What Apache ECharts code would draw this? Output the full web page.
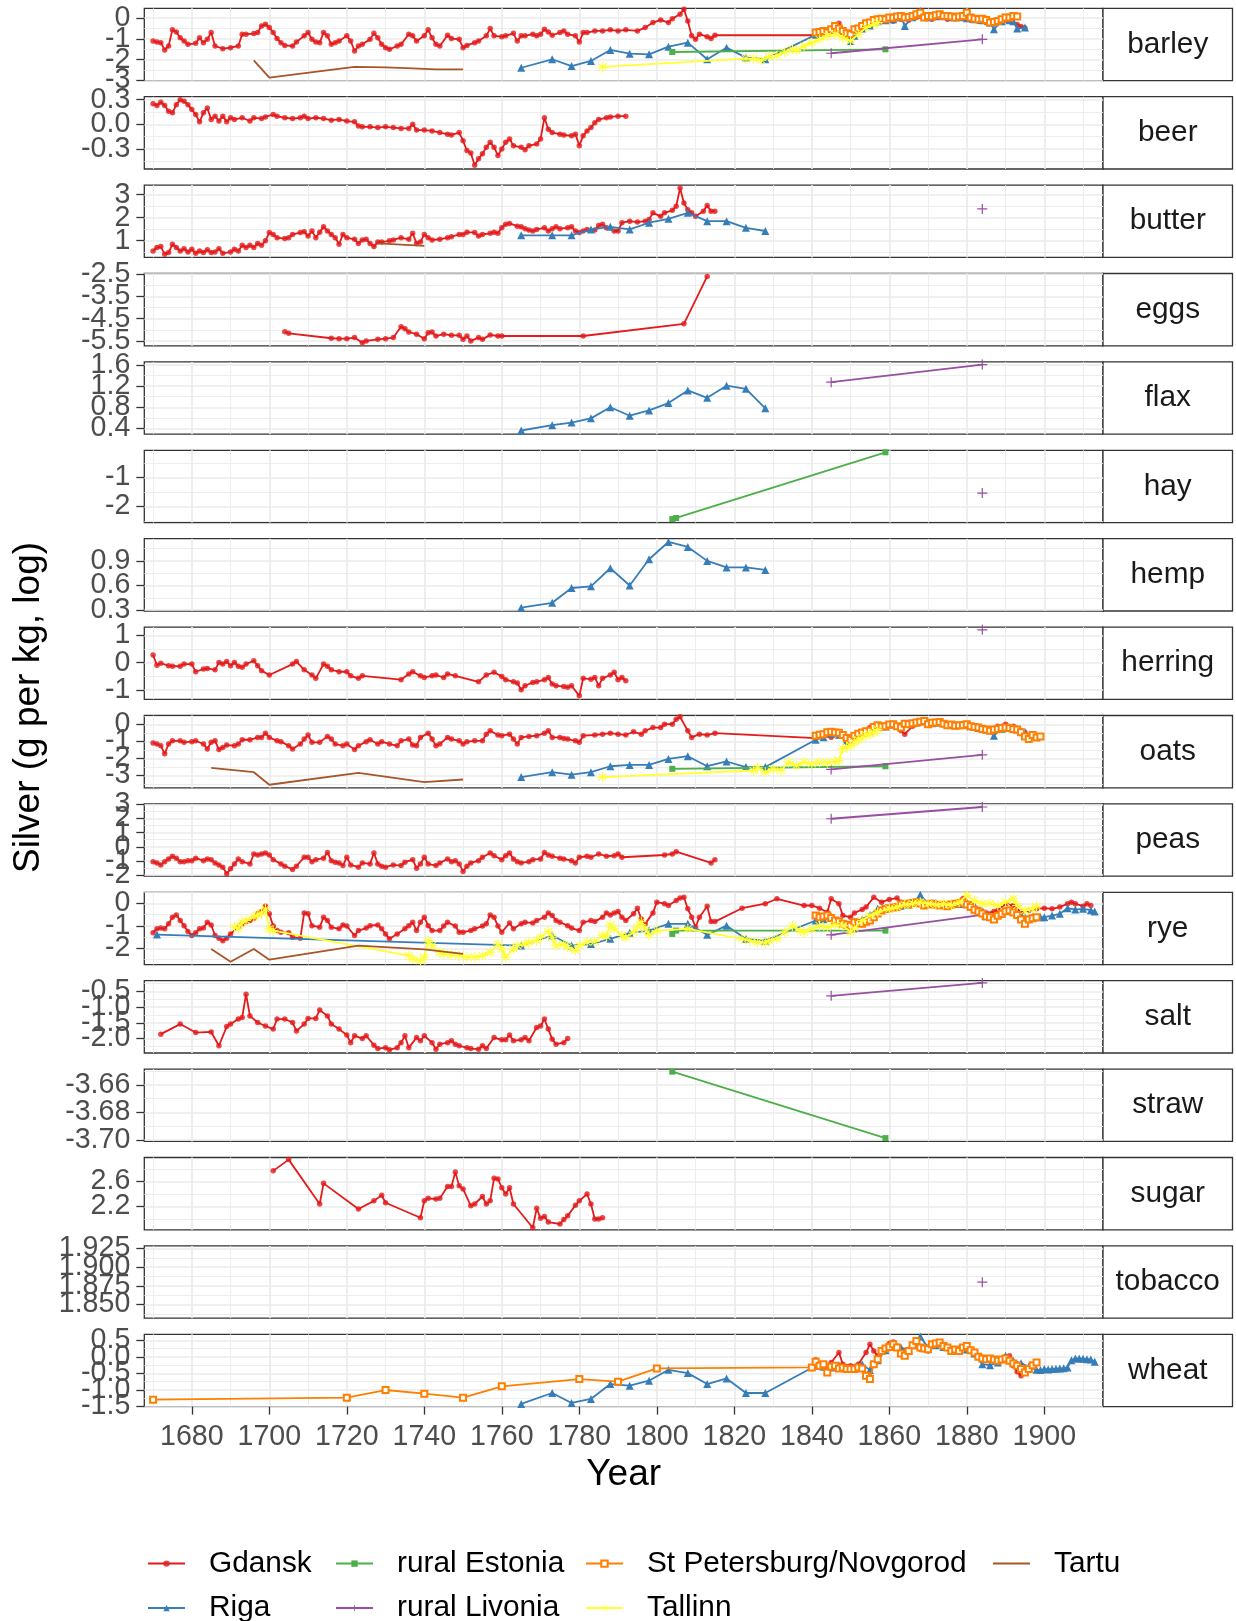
<!DOCTYPE html>
<html>
<head>
<meta charset="utf-8">
<script src="https://cdn.jsdelivr.net/npm/echarts@6/dist/echarts.min.js"></script>
<style>
html,body{margin:0;padding:0;background:#ffffff;}
#chart{width:1236px;height:1621px;}
</style>
</head>
<body>
<div id="chart"></div>
<script>
// ---------- categories and tick labels ----------
const REGIONS = ['Gdansk', 'Riga', 'rural Estonia', 'rural Livonia', 'St Petersburg/Novgorod', 'Tallinn', 'Tartu'];
const COMMODITIES = ['barley', 'beer', 'butter', 'eggs', 'flax', 'hay', 'hemp', 'herring', 'oats', 'peas', 'rye', 'salt', 'straw', 'sugar', 'tobacco', 'wheat'];
const YEAR_TICKS = ['1680', '1700', '1720', '1740', '1760', '1780', '1800', '1820', '1840', '1860', '1880', '1900'];
const YEAR_LIMITS = [1667.74, 1915.15];

const barleyTicks = ['0', '-1', '-2', '-3'];
const beerTicks = ['0.3', '0.0', '-0.3'];
const butterTicks = ['3', '2', '1'];
const eggsTicks = ['-2.5', '-3.5', '-4.5', '-5.5'];
const flaxTicks = ['1.6', '1.2', '0.8', '0.4'];
const hayTicks = ['-1', '-2'];
const hempTicks = ['0.9', '0.6', '0.3'];
const herringTicks = ['1', '0', '-1'];
const oatsTicks = ['0', '-1', '-2', '-3'];
const peasTicks = ['3', '2', '1', '0', '-1', '-2'];
const ryeTicks = ['0', '-1', '-2'];
const saltTicks = ['-0.5', '-1.0', '-1.5', '-2.0'];
const strawTicks = ['-3.66', '-3.68', '-3.70'];
const sugarTicks = ['2.6', '2.2'];
const tobaccoTicks = ['1.925', '1.900', '1.875', '1.850'];
const wheatTicks = ['0.5', '0.0', '-0.5', '-1.0', '-1.5'];

// y limits of each facet (free scales)
const barleyLimits = [-3.01, 0.48];
const beerLimits = [-0.545, 0.337];
const butterLimits = [0.27, 3.42];
const eggsLimits = [-5.72, -2.47];
const flaxLimits = [0.29, 1.66];
const hayLimits = [-2.56, -0.06];
const hempLimits = [0.29, 1.17];
const herringLimits = [-1.34, 1.30];
const oatsLimits = [-3.73, 0.53];
const peasLimits = [-2.08, 3.03];
const ryeLimits = [-2.73, 0.50];
const saltLimits = [-2.46, -0.16];
const strawLimits = [-3.7012, -3.6484];
const sugarLimits = [1.827, 2.984];
const tobaccoLimits = [1.8317, 1.9286];
const wheatLimits = [-1.50, 0.68];

// ---------- series values: [year, log silver price] ----------
// barley
const barleyGdansk = [[1670,-1.10],[1671,-1.15],[1672,-1.18],[1673,-1.53],[1674,-1.34],[1675,-0.56],[1676,-0.66],[1677,-0.94],[1678,-1.10],[1679,-1.26],[1681,-1.21],[1682,-0.94],[1683,-1.18],[1684,-1.02],[1685,-0.69],[1686,-1.34],[1688,-1.47],[1690,-1.42],[1692,-1.34],[1693,-0.77],[1694,-0.77],[1696,-0.74],[1697,-0.69],[1698,-0.37],[1699,-0.29],[1700,-0.45],[1701,-0.69],[1702,-0.98],[1703,-1.18],[1704,-1.31],[1706,-1.34],[1707,-1.15],[1709,-0.85],[1710,-0.69],[1711,-1.02],[1712,-1.15],[1713,-1.18],[1714,-0.69],[1715,-0.85],[1716,-1.26],[1717,-1.18],[1718,-1.10],[1720,-0.85],[1721,-1.10],[1722,-1.58],[1723,-1.34],[1724,-1.26],[1726,-1.02],[1727,-0.73],[1728,-0.94],[1729,-1.26],[1730,-1.42],[1731,-1.50],[1733,-1.34],[1734,-1.26],[1736,-0.77],[1737,-0.85],[1738,-1.10],[1740,-0.85],[1741,-0.56],[1742,-0.94],[1743,-1.26],[1744,-1.34],[1746,-0.82],[1747,-0.98],[1749,-1.02],[1750,-1.42],[1751,-1.31],[1753,-1.18],[1754,-1.10],[1756,-0.85],[1757,-0.50],[1758,-0.85],[1760,-0.89],[1761,-0.85],[1763,-0.73],[1764,-1.10],[1765,-0.85],[1766,-0.85],[1768,-0.77],[1769,-0.85],[1770,-0.77],[1771,-0.53],[1772,-0.66],[1773,-0.82],[1775,-0.69],[1776,-0.61],[1777,-0.77],[1779,-0.85],[1780,-1.15],[1781,-0.69],[1782,-0.69],[1784,-0.61],[1786,-0.61],[1788,-0.56],[1790,-0.61],[1792,-0.56],[1795,-0.61],[1797,-0.45],[1799,-0.21],[1801,-0.08],[1803,-0.21],[1804,-0.02],[1806,0.19],[1807,0.44],[1808,-0.13],[1809,-0.85],[1810,-1.02],[1811,-0.77],[1813,-0.89],[1814,-0.98],[1815,-0.82],[1841,-0.82],[1843,-0.70],[1845,-0.55],[1847,-0.24],[1849,-0.75],[1851,-0.60],[1853,-0.40],[1855,-0.30],[1857,-0.15],[1859,-0.10],[1861,-0.15],[1863,-0.05],[1865,-0.10],[1867,0.05],[1869,0.00],[1871,-0.05],[1873,0.05],[1875,-0.05],[1877,-0.02],[1879,0.00],[1881,-0.10],[1883,-0.15],[1885,-0.20],[1887,-0.25],[1889,-0.20],[1891,-0.15],[1893,-0.30],[1894,-0.40],[1895,-0.47]];
const barleyRiga = [[1765,-2.39],[1773,-1.98],[1778,-2.31],[1783,-2.06],[1788,-1.53],[1793,-1.71],[1798,-1.74],[1803,-1.37],[1808,-1.18],[1813,-1.98],[1818,-1.42],[1823,-1.90],[1828,-1.98],[1841,-0.80],[1843,-0.70],[1845,-0.60],[1847,-0.45],[1849,-0.80],[1850,-1.10],[1851,-0.85],[1853,-0.50],[1855,-0.35],[1857,-0.15],[1859,-0.10],[1861,-0.05],[1863,0.05],[1864,-0.37],[1866,0.05],[1868,0.35],[1870,0.05],[1872,0.10],[1874,0.10],[1876,0.05],[1878,0.05],[1880,0.00],[1882,-0.05],[1884,-0.10],[1886,-0.20],[1887,-0.53],[1889,-0.15],[1891,-0.10],[1892,-0.15],[1893,-0.50],[1895,-0.45]];
const barleyEstonia = [[1804,-1.63],[1859,-1.50]];
const barleyLivonia = [[1845,-1.69],[1884,-1.02]];
const barleyStPetersburg = [[1841,-0.69],[1842,-0.66],[1843,-0.61],[1844,-0.69],[1845,-0.53],[1846,-0.37],[1847,-0.50],[1848,-0.61],[1849,-0.73],[1850,-0.77],[1851,-0.53],[1852,-0.50],[1853,-0.37],[1854,-0.24],[1855,-0.21],[1856,-0.08],[1857,-0.05],[1858,-0.02],[1859,-0.05],[1860,0.03],[1861,0.02],[1862,0.08],[1863,0.11],[1864,0.03],[1865,0.06],[1866,0.11],[1867,0.19],[1868,0.27],[1869,0.03],[1870,0.11],[1871,0.08],[1872,0.15],[1873,0.19],[1874,0.11],[1875,0.11],[1876,0.08],[1877,0.03],[1878,0.08],[1879,0.11],[1880,0.27],[1881,0.03],[1882,-0.02],[1883,-0.05],[1884,-0.02],[1885,-0.08],[1886,-0.21],[1887,-0.18],[1888,-0.13],[1889,-0.05],[1890,0.03],[1891,0.03],[1892,0.11],[1893,0.08]];
const barleyTallinn = [[1786,-2.35],[1823,-1.95],[1825,-1.95],[1827,-2.02],[1829,-1.85],[1831,-1.80],[1833,-1.63],[1835,-1.50],[1836,-1.55],[1838,-1.34],[1840,-1.18],[1842,-1.02],[1844,-0.85],[1846,-0.77],[1848,-0.94],[1850,-1.10],[1852,-0.77],[1854,-0.45],[1856,-0.29],[1857,-0.21]];
const barleyTartu = [[1696,-2.03],[1700,-2.87],[1722,-2.35],[1730,-2.37],[1737,-2.42],[1743,-2.47],[1750,-2.47]];

// beer
const beerGdansk = [[1670,0.25],[1671,0.23],[1672,0.27],[1673,0.23],[1674,0.16],[1675,0.14],[1676,0.24],[1677,0.30],[1678,0.28],[1679,0.24],[1680,0.18],[1681,0.12],[1682,0.03],[1683,0.14],[1684,0.20],[1685,0.06],[1686,0.10],[1687,0.04],[1688,0.10],[1689,0.03],[1690,0.08],[1691,0.06],[1693,0.08],[1695,0.04],[1696,0.08],[1698,0.07],[1699,0.09],[1701,0.12],[1702,0.10],[1704,0.08],[1706,0.07],[1708,0.08],[1709,0.10],[1710,0.07],[1712,0.08],[1714,0.07],[1716,0.05],[1718,0.06],[1720,0.04],[1722,0.03],[1723,-0.02],[1724,-0.03],[1726,-0.03],[1728,-0.04],[1730,-0.03],[1732,-0.04],[1734,-0.05],[1736,-0.05],[1737,0.00],[1738,-0.07],[1740,-0.07],[1742,-0.08],[1744,-0.10],[1746,-0.12],[1747,-0.13],[1749,-0.10],[1750,-0.20],[1751,-0.32],[1752,-0.35],[1753,-0.50],[1754,-0.42],[1755,-0.36],[1756,-0.28],[1757,-0.22],[1758,-0.28],[1759,-0.38],[1760,-0.30],[1761,-0.22],[1762,-0.18],[1763,-0.26],[1765,-0.28],[1766,-0.31],[1767,-0.26],[1769,-0.24],[1770,-0.18],[1771,0.08],[1772,-0.06],[1773,-0.10],[1775,-0.12],[1776,-0.13],[1778,-0.14],[1779,-0.12],[1780,-0.26],[1781,-0.14],[1782,-0.08],[1783,-0.04],[1784,0.02],[1785,0.06],[1787,0.08],[1788,0.09],[1790,0.10],[1792,0.10]];

// butter
const butterGdansk = [[1670,0.55],[1671,0.70],[1672,0.74],[1673,0.41],[1674,0.48],[1675,0.84],[1676,0.70],[1677,0.55],[1678,0.65],[1679,0.51],[1680,0.63],[1681,0.45],[1682,0.55],[1683,0.48],[1684,0.60],[1685,0.48],[1686,0.51],[1687,0.65],[1688,0.45],[1690,0.51],[1691,0.63],[1692,0.55],[1693,0.80],[1694,0.70],[1695,0.80],[1696,0.70],[1697,0.88],[1698,0.80],[1699,0.99],[1700,1.35],[1701,1.27],[1702,1.13],[1704,1.09],[1705,1.13],[1706,1.27],[1708,1.35],[1709,1.39],[1710,1.20],[1711,1.42],[1712,1.13],[1713,1.37],[1714,1.60],[1715,1.42],[1716,1.27],[1717,1.13],[1718,0.84],[1719,1.27],[1720,1.13],[1722,1.06],[1723,0.88],[1724,1.03],[1725,1.06],[1726,0.88],[1727,0.74],[1728,0.94],[1729,0.94],[1731,0.99],[1732,1.03],[1734,1.13],[1736,1.06],[1737,1.32],[1738,0.88],[1739,0.94],[1740,1.27],[1741,1.13],[1742,1.03],[1744,1.06],[1746,1.13],[1747,1.17],[1749,1.27],[1750,1.27],[1751,1.37],[1753,1.35],[1754,1.20],[1755,1.27],[1757,1.32],[1758,1.37],[1759,1.32],[1760,1.56],[1761,1.71],[1762,1.75],[1764,1.63],[1765,1.60],[1766,1.52],[1767,1.46],[1768,1.42],[1769,1.49],[1771,1.56],[1772,1.42],[1773,1.52],[1774,1.60],[1775,1.52],[1777,1.56],[1778,1.60],[1779,1.42],[1780,1.35],[1781,1.42],[1782,1.49],[1784,1.46],[1785,1.66],[1786,1.71],[1787,1.56],[1789,1.42],[1790,1.42],[1791,1.78],[1793,1.85],[1795,1.81],[1797,1.85],[1798,1.92],[1799,2.21],[1801,2.06],[1802,2.21],[1804,2.32],[1805,2.50],[1806,3.29],[1807,2.64],[1808,2.35],[1809,2.21],[1810,2.06],[1812,2.28],[1813,2.53],[1814,2.28],[1815,2.28]];
const butterRiga = [[1765,1.23],[1773,1.23],[1778,1.23],[1783,1.49],[1788,1.60],[1793,1.49],[1798,1.78],[1803,1.95],[1808,2.21],[1813,1.85],[1818,1.85],[1823,1.56],[1828,1.42]];
const butterLivonia = [[1884,2.38]];
const butterTartu = [[1728,0.88],[1740,0.77]];

// eggs
const eggsGdansk = [[1704,-5.09],[1705,-5.16],[1716,-5.38],[1718,-5.40],[1720,-5.40],[1722,-5.35],[1724,-5.58],[1725,-5.50],[1728,-5.43],[1730,-5.40],[1732,-5.35],[1734,-4.86],[1735,-4.95],[1736,-5.10],[1738,-5.20],[1740,-5.40],[1741,-5.13],[1742,-5.10],[1743,-5.28],[1745,-5.20],[1747,-5.25],[1749,-5.25],[1750,-5.43],[1751,-5.28],[1752,-5.50],[1754,-5.35],[1755,-5.43],[1757,-5.23],[1759,-5.28],[1760,-5.28],[1781,-5.28],[1807,-4.73],[1813,-2.60]];

// flax
const flaxRiga = [[1765,0.36],[1773,0.46],[1778,0.51],[1783,0.59],[1788,0.80],[1793,0.64],[1798,0.74],[1803,0.88],[1808,1.12],[1813,0.98],[1818,1.21],[1823,1.15],[1828,0.78]];
const flaxLivonia = [[1845,1.275],[1884,1.61]];

// hay
const hayEstonia = [[1804,-2.44],[1805,-2.40],[1859,-0.13]];
const hayLivonia = [[1884,-1.54]];

// hemp
const hempRiga = [[1765,0.33],[1773,0.39],[1778,0.57],[1783,0.59],[1788,0.81],[1793,0.60],[1798,0.92],[1803,1.13],[1808,1.07],[1813,0.90],[1818,0.82],[1823,0.82],[1828,0.79]];

// herring
const herringGdansk = [[1670,0.28],[1671,-0.09],[1672,-0.02],[1674,-0.11],[1675,-0.13],[1677,-0.13],[1678,-0.05],[1680,-0.05],[1681,-0.33],[1683,-0.23],[1684,-0.21],[1686,-0.26],[1687,0.01],[1688,-0.05],[1689,0.04],[1690,-0.11],[1691,0.01],[1692,-0.13],[1693,-0.17],[1694,-0.05],[1696,0.07],[1697,-0.11],[1698,-0.29],[1700,-0.45],[1706,-0.05],[1707,0.04],[1709,-0.26],[1711,-0.45],[1712,-0.57],[1714,-0.05],[1715,-0.13],[1716,-0.26],[1718,-0.33],[1720,-0.33],[1721,-0.48],[1723,-0.57],[1724,-0.48],[1734,-0.62],[1736,-0.41],[1737,-0.33],[1739,-0.48],[1740,-0.54],[1742,-0.48],[1743,-0.45],[1745,-0.54],[1746,-0.41],[1748,-0.48],[1754,-0.70],[1756,-0.45],[1758,-0.35],[1760,-0.50],[1761,-0.62],[1763,-0.70],[1764,-0.74],[1765,-0.99],[1766,-0.84],[1768,-0.72],[1769,-0.70],[1771,-0.62],[1772,-0.54],[1773,-0.78],[1774,-0.84],[1776,-0.87],[1777,-0.90],[1778,-0.84],[1780,-1.21],[1781,-0.57],[1783,-0.60],[1784,-0.54],[1785,-0.84],[1786,-0.57],[1788,-0.45],[1789,-0.35],[1790,-0.62],[1791,-0.54],[1792,-0.66]];
const herringLivonia = [[1884,1.20]];

// oats
const oatsGdansk = [[1670,-1.09],[1671,-1.15],[1672,-1.25],[1673,-1.73],[1674,-1.15],[1675,-0.96],[1677,-0.96],[1678,-1.05],[1680,-1.01],[1681,-0.96],[1683,-1.15],[1684,-1.44],[1685,-1.05],[1686,-0.96],[1687,-1.48],[1688,-1.35],[1689,-1.21],[1691,-1.25],[1692,-1.15],[1693,-0.90],[1695,-0.90],[1697,-0.76],[1698,-0.76],[1699,-0.51],[1700,-0.76],[1702,-0.96],[1703,-1.01],[1705,-1.25],[1706,-1.44],[1708,-1.15],[1709,-0.86],[1710,-0.62],[1711,-1.05],[1713,-1.05],[1715,-0.70],[1716,-0.86],[1717,-1.15],[1719,-1.25],[1720,-1.15],[1722,-1.48],[1723,-1.25],[1725,-1.01],[1726,-0.90],[1728,-1.15],[1729,-1.01],[1731,-1.15],[1733,-1.25],[1734,-0.96],[1736,-0.86],[1737,-1.21],[1738,-1.25],[1739,-0.76],[1741,-0.51],[1742,-0.86],[1743,-1.25],[1744,-1.15],[1746,-0.76],[1747,-0.86],[1749,-0.96],[1750,-1.15],[1751,-1.01],[1753,-0.96],[1755,-0.96],[1756,-0.57],[1757,-0.37],[1759,-0.62],[1760,-0.66],[1762,-0.57],[1763,-0.86],[1764,-1.15],[1765,-0.76],[1767,-0.70],[1769,-0.66],[1771,-0.51],[1772,-0.37],[1773,-0.76],[1775,-0.76],[1776,-0.82],[1777,-0.86],[1779,-0.96],[1780,-1.05],[1781,-0.66],[1784,-0.62],[1786,-0.57],[1788,-0.51],[1790,-0.57],[1792,-0.62],[1794,-0.43],[1796,-0.57],[1797,-0.37],[1799,-0.18],[1801,-0.18],[1802,0.02],[1804,0.02],[1805,0.31],[1806,0.45],[1808,-0.37],[1809,-0.76],[1811,-0.57],[1813,-0.62],[1815,-0.51],[1841,-0.80],[1843,-0.70],[1845,-0.75],[1847,-0.55],[1849,-1.05],[1851,-0.80],[1853,-0.50],[1855,-0.18],[1857,-0.10],[1859,-0.15],[1861,-0.05],[1863,-0.35],[1864,-0.57],[1866,-0.10],[1868,0.10],[1870,0.00],[1872,0.05],[1874,0.10],[1876,-0.05],[1878,-0.10],[1880,-0.05],[1882,-0.15],[1884,-0.25],[1886,-0.30],[1888,-0.10],[1890,0.02],[1892,-0.10],[1894,-0.37],[1895,-0.45]];
const oatsRiga = [[1765,-3.10],[1773,-2.81],[1778,-2.96],[1783,-2.81],[1788,-2.46],[1793,-2.38],[1798,-2.38],[1803,-2.03],[1808,-1.87],[1813,-2.46],[1818,-2.18],[1823,-2.51],[1828,-2.51],[1841,-0.90],[1843,-0.75],[1845,-0.55],[1847,-0.60],[1849,-0.95],[1851,-0.70],[1853,-0.50],[1855,-0.40],[1857,-0.10],[1859,-0.12],[1861,0.00],[1863,-0.15],[1865,0.05],[1867,0.12],[1869,0.20],[1871,0.08],[1873,0.12],[1875,0.00],[1877,-0.05],[1879,-0.02],[1881,-0.10],[1883,-0.20],[1885,-0.30],[1887,-0.66],[1889,-0.25],[1891,-0.20],[1893,-0.30],[1895,-0.45]];
const oatsEstonia = [[1804,-2.61],[1859,-2.46]];
const oatsLivonia = [[1845,-2.65],[1884,-1.79]];
const oatsStPetersburg = [[1841,-0.66],[1842,-0.60],[1843,-0.57],[1844,-0.45],[1845,-0.43],[1846,-0.47],[1847,-0.49],[1848,-0.62],[1849,-0.80],[1850,-0.90],[1851,-0.66],[1852,-0.55],[1853,-0.47],[1854,-0.40],[1855,-0.37],[1856,-0.15],[1857,-0.04],[1858,-0.12],[1859,-0.10],[1860,0.00],[1861,0.02],[1862,-0.10],[1863,-0.18],[1864,0.05],[1865,0.02],[1866,0.08],[1867,0.12],[1868,0.16],[1869,0.21],[1870,0.02],[1871,0.10],[1872,0.12],[1873,0.15],[1874,0.05],[1875,-0.04],[1876,0.00],[1877,-0.08],[1878,-0.05],[1879,-0.04],[1880,0.02],[1881,-0.10],[1882,-0.15],[1883,-0.18],[1884,-0.27],[1885,-0.30],[1886,-0.37],[1887,-0.30],[1888,-0.27],[1889,-0.20],[1890,-0.18],[1891,-0.20],[1892,-0.27],[1893,-0.30],[1894,-0.45],[1895,-0.70],[1896,-0.86],[1897,-0.62],[1898,-0.76],[1899,-0.70]];
const oatsTallinn = [[1786,-3.10],[1825,-2.71],[1826,-2.55],[1828,-2.81],[1830,-2.62],[1832,-2.71],[1834,-2.22],[1836,-2.42],[1838,-2.22],[1840,-2.32],[1842,-2.22],[1844,-2.25],[1846,-2.18],[1847,-2.12],[1848,-1.44],[1849,-1.30],[1850,-1.25],[1851,-1.05],[1852,-0.90],[1853,-0.76],[1854,-0.60],[1855,-0.57],[1856,-0.47],[1857,-0.30]];
const oatsTartu = [[1685,-2.55],[1696,-2.81],[1700,-3.55],[1723,-2.85],[1740,-3.39],[1750,-3.24]];

// peas
const peasGdansk = [[1670,-1.05],[1671,-1.14],[1672,-1.28],[1673,-1.05],[1674,-0.86],[1675,-0.67],[1676,-0.81],[1677,-1.05],[1678,-1.05],[1679,-0.98],[1680,-0.98],[1681,-0.81],[1683,-0.98],[1684,-0.86],[1685,-0.91],[1686,-1.14],[1687,-1.28],[1688,-1.44],[1689,-1.91],[1690,-1.56],[1691,-1.21],[1692,-0.86],[1693,-1.05],[1695,-1.21],[1696,-0.51],[1697,-0.58],[1698,-0.51],[1699,-0.44],[1700,-0.58],[1701,-0.91],[1703,-1.21],[1704,-1.37],[1706,-1.60],[1707,-1.37],[1709,-0.74],[1710,-0.74],[1711,-1.05],[1712,-0.91],[1714,-0.81],[1715,-0.40],[1716,-0.98],[1717,-1.09],[1718,-1.14],[1719,-1.33],[1720,-0.74],[1721,-1.28],[1723,-1.44],[1724,-1.14],[1726,-1.21],[1727,-0.44],[1728,-1.21],[1729,-1.37],[1730,-1.44],[1732,-1.28],[1734,-1.33],[1735,-1.09],[1737,-0.91],[1738,-1.51],[1739,-1.21],[1740,-0.74],[1741,-1.21],[1743,-1.33],[1744,-1.14],[1746,-0.86],[1747,-1.05],[1748,-0.98],[1749,-1.21],[1750,-1.74],[1751,-1.37],[1752,-1.14],[1754,-0.98],[1755,-0.74],[1757,-0.44],[1758,-0.63],[1760,-0.91],[1761,-0.63],[1762,-0.44],[1763,-0.86],[1764,-1.05],[1765,-1.14],[1767,-1.05],[1768,-0.91],[1770,-0.86],[1771,-0.40],[1772,-0.58],[1773,-0.67],[1775,-0.81],[1776,-0.86],[1778,-0.98],[1779,-1.14],[1780,-0.74],[1782,-0.67],[1783,-0.74],[1785,-0.51],[1787,-0.67],[1789,-0.63],[1790,-0.51],[1791,-0.74],[1802,-0.58],[1804,-0.51],[1805,-0.35],[1814,-1.14],[1815,-0.91]];
const peasLivonia = [[1845,1.98],[1884,2.81]];

// rye
const ryeGdansk = [[1670,-1.31],[1671,-1.13],[1672,-1.10],[1673,-1.13],[1674,-0.91],[1675,-0.61],[1676,-0.51],[1677,-0.76],[1678,-0.99],[1679,-1.25],[1680,-1.43],[1681,-1.31],[1682,-1.13],[1683,-1.10],[1684,-0.84],[1685,-0.96],[1686,-1.43],[1687,-1.55],[1688,-1.66],[1689,-1.55],[1690,-1.36],[1692,-1.06],[1693,-0.91],[1694,-0.81],[1695,-0.76],[1696,-0.66],[1697,-0.46],[1698,-0.36],[1699,-0.12],[1700,-0.46],[1701,-1.01],[1702,-1.21],[1703,-1.28],[1705,-1.31],[1706,-1.51],[1708,-1.55],[1709,-0.42],[1710,-0.46],[1711,-0.99],[1713,-1.06],[1714,-0.61],[1715,-0.76],[1716,-1.06],[1718,-1.13],[1719,-0.96],[1720,-1.01],[1722,-1.43],[1723,-1.21],[1725,-1.10],[1726,-0.99],[1728,-0.96],[1729,-1.13],[1730,-1.36],[1731,-1.58],[1733,-1.36],[1735,-1.13],[1736,-0.99],[1737,-0.84],[1738,-1.21],[1739,-0.84],[1740,-0.61],[1741,-0.99],[1742,-1.21],[1744,-1.21],[1745,-1.01],[1746,-0.84],[1748,-1.01],[1749,-1.28],[1750,-1.28],[1752,-1.21],[1753,-1.13],[1755,-1.01],[1756,-0.91],[1757,-0.51],[1758,-0.61],[1759,-1.01],[1760,-1.28],[1762,-0.87],[1763,-1.13],[1765,-0.91],[1766,-0.84],[1768,-0.87],[1769,-0.76],[1771,-0.61],[1772,-0.42],[1773,-0.54],[1774,-0.76],[1775,-0.84],[1777,-0.99],[1778,-1.10],[1780,-1.21],[1781,-0.84],[1783,-0.76],[1784,-0.81],[1786,-0.61],[1787,-0.42],[1788,-0.51],[1789,-0.42],[1790,-0.36],[1791,-0.61],[1792,-0.76],[1794,-0.46],[1795,-0.21],[1796,-0.69],[1797,-0.91],[1799,-0.42],[1800,0.06],[1802,-0.01],[1803,-0.09],[1805,0.13],[1806,0.24],[1807,0.28],[1808,-0.24],[1809,-0.61],[1810,-1.06],[1811,-0.61],[1813,-0.12],[1814,-0.81],[1815,-0.81],[1822,-0.21],[1828,-0.01],[1831,0.21],[1838,-0.09],[1840,-0.09],[1842,-0.21],[1844,-0.39],[1845,0.21],[1847,-0.01],[1848,-0.54],[1850,-0.61],[1851,-0.42],[1853,-0.27],[1854,-0.16],[1856,0.28],[1858,0.06],[1860,0.18],[1862,0.24],[1863,0.06],[1865,-0.01],[1867,0.06],[1869,-0.01],[1871,0.06],[1873,-0.01],[1875,-0.01],[1877,-0.09],[1879,0.21],[1881,-0.01],[1883,-0.24],[1885,-0.42],[1887,-0.36],[1888,-0.31],[1890,-0.01],[1892,-0.09],[1894,-0.39],[1896,-0.31],[1898,-0.24],[1900,-0.21],[1902,-0.24],[1904,-0.16],[1906,-0.01],[1907,0.06],[1908,-0.01],[1910,-0.12],[1911,-0.01],[1912,-0.09]];
const ryeRiga = [[1671,-1.39],[1765,-1.88],[1773,-1.43],[1778,-1.88],[1783,-1.81],[1788,-1.58],[1793,-1.31],[1798,-1.21],[1803,-0.91],[1808,-0.91],[1813,-1.40],[1818,-0.99],[1823,-1.58],[1828,-1.66],[1841,-0.76],[1843,-0.70],[1845,-0.60],[1847,-0.75],[1849,-0.91],[1851,-0.80],[1853,-0.70],[1855,-0.50],[1857,-0.24],[1859,-0.20],[1861,-0.15],[1863,-0.10],[1865,-0.05],[1867,0.10],[1868,0.39],[1870,0.00],[1872,0.02],[1874,-0.02],[1876,-0.05],[1878,-0.02],[1880,0.05],[1882,-0.10],[1884,-0.30],[1886,-0.55],[1887,-0.69],[1889,-0.45],[1891,-0.30],[1893,-0.40],[1895,-0.60],[1897,-0.55],[1899,-0.61],[1900,-0.61],[1902,-0.54],[1904,-0.46],[1906,-0.21],[1908,-0.27],[1910,-0.24],[1912,-0.30],[1913,-0.36]];
const ryeEstonia = [[1804,-1.36],[1805,-1.21],[1859,-1.21]];
const ryeLivonia = [[1845,-1.40],[1884,-0.51]];
const ryeStPetersburg = [[1841,-0.54],[1842,-0.61],[1843,-0.58],[1844,-0.54],[1845,-0.65],[1846,-0.76],[1847,-0.80],[1848,-0.91],[1849,-0.95],[1850,-0.99],[1851,-0.84],[1852,-0.88],[1853,-0.91],[1854,-0.82],[1855,-0.76],[1856,-0.61],[1857,-0.45],[1858,-0.31],[1859,-0.25],[1860,-0.21],[1861,-0.18],[1862,-0.16],[1863,-0.05],[1864,-0.01],[1865,-0.03],[1866,0.02],[1867,0.06],[1868,0.00],[1869,-0.09],[1870,-0.05],[1871,-0.01],[1872,-0.06],[1873,-0.09],[1874,-0.06],[1875,-0.12],[1876,-0.05],[1877,-0.01],[1878,0.02],[1879,0.06],[1880,-0.05],[1881,-0.16],[1882,-0.28],[1883,-0.36],[1884,-0.45],[1885,-0.58],[1886,-0.61],[1887,-0.72],[1888,-0.55],[1889,-0.46],[1890,-0.35],[1891,-0.31],[1892,-0.40],[1893,-0.51],[1894,-0.72],[1895,-0.91],[1896,-0.72],[1897,-0.66],[1898,-0.61]];
const ryeTallinn = [[1691,-1.06],[1692,-1.10],[1693,-0.84],[1694,-0.76],[1696,-0.61],[1697,-0.51],[1698,-0.42],[1699,-0.24],[1700,-1.13],[1701,-1.21],[1736,-2.33],[1737,-2.48],[1739,-2.55],[1740,-2.40],[1741,-1.66],[1742,-1.88],[1744,-2.18],[1745,-2.25],[1747,-2.30],[1749,-2.33],[1751,-2.40],[1753,-2.40],[1755,-2.33],[1757,-2.18],[1759,-1.81],[1760,-2.03],[1761,-2.40],[1763,-2.03],[1764,-1.88],[1766,-1.81],[1767,-1.73],[1769,-1.66],[1770,-1.51],[1772,-1.25],[1773,-1.51],[1774,-1.88],[1776,-1.81],[1777,-1.96],[1779,-2.10],[1780,-1.88],[1782,-1.73],[1784,-1.70],[1786,-1.43],[1787,-1.46],[1788,-0.96],[1789,-1.13],[1791,-1.43],[1792,-1.51],[1794,-1.28],[1795,-1.06],[1796,-0.81],[1797,-1.13],[1798,-1.40],[1800,-1.21],[1808,-1.13],[1822,-1.58],[1824,-1.66],[1826,-1.73],[1828,-1.76],[1829,-1.66],[1831,-1.58],[1833,-1.28],[1835,-1.01],[1837,-1.21],[1838,-1.28],[1840,-1.13],[1842,-0.99],[1844,-1.06],[1846,-0.96],[1848,-0.99],[1850,-1.28],[1851,-1.10],[1853,-0.76],[1855,-0.54],[1857,-0.39],[1860,-0.24],[1862,-0.16],[1864,-0.06],[1866,-0.01],[1868,0.06],[1870,-0.01],[1872,-0.06],[1874,-0.01],[1876,-0.09],[1878,0.06],[1880,0.36],[1882,0.13],[1884,-0.01],[1886,-0.01],[1888,-0.09],[1890,0.06],[1892,0.21],[1893,-0.09],[1895,-0.31],[1897,-0.24],[1898,-0.12]];
const ryeTartu = [[1685,-2.03],[1690,-2.60],[1696,-2.03],[1700,-2.51],[1723,-1.88],[1740,-2.05],[1750,-2.25]];

// salt
const saltGdansk = [[1672,-1.86],[1677,-1.54],[1681,-1.81],[1685,-1.79],[1687,-2.23],[1689,-1.62],[1690,-1.54],[1692,-1.38],[1693,-1.33],[1694,-0.59],[1695,-1.28],[1697,-1.49],[1699,-1.60],[1701,-1.70],[1702,-1.38],[1704,-1.38],[1706,-1.49],[1707,-1.76],[1709,-1.54],[1710,-1.36],[1712,-1.36],[1713,-1.09],[1715,-1.28],[1716,-1.54],[1718,-1.70],[1720,-1.89],[1721,-2.13],[1722,-1.91],[1724,-2.00],[1725,-1.91],[1727,-2.21],[1728,-2.32],[1730,-2.29],[1731,-2.36],[1733,-2.29],[1734,-2.13],[1735,-1.91],[1736,-2.29],[1738,-1.97],[1739,-2.07],[1740,-1.91],[1742,-2.13],[1743,-2.34],[1744,-2.18],[1746,-2.13],[1747,-2.07],[1748,-2.18],[1749,-2.23],[1751,-2.29],[1752,-2.32],[1754,-2.34],[1755,-2.23],[1756,-2.32],[1758,-1.97],[1760,-2.04],[1761,-2.04],[1762,-1.89],[1763,-2.07],[1765,-2.04],[1766,-1.97],[1767,-2.07],[1769,-1.65],[1770,-1.60],[1771,-1.38],[1772,-1.70],[1773,-2.02],[1774,-2.18],[1776,-2.13],[1777,-2.00]];
const saltLivonia = [[1845,-0.64],[1884,-0.23]];

// straw
const strawEstonia = [[1804,-3.6503],[1859,-3.6988]];

// sugar
const sugarGdansk = [[1701,2.77],[1705,2.95],[1713,2.24],[1714,2.57],[1723,2.16],[1727,2.29],[1729,2.38],[1730,2.26],[1739,2.02],[1740,2.29],[1741,2.33],[1743,2.32],[1744,2.33],[1746,2.52],[1747,2.52],[1748,2.75],[1749,2.53],[1750,2.48],[1752,2.21],[1753,2.24],[1755,2.36],[1756,2.24],[1757,2.29],[1758,2.65],[1759,2.64],[1760,2.50],[1761,2.40],[1762,2.50],[1763,2.24],[1768,1.86],[1769,2.17],[1770,2.01],[1771,2.04],[1772,1.95],[1775,1.92],[1776,1.99],[1777,2.05],[1779,2.22],[1780,2.29],[1782,2.40],[1783,2.24],[1784,2.00],[1785,2.00],[1786,2.02]];

// tobacco
const tobaccoLivonia = [[1884,1.88]];

// wheat
const wheatGdansk = [[1841,-0.09],[1842,-0.22],[1844,-0.47],[1845,-0.17],[1847,0.13],[1848,-0.22],[1850,-0.27],[1852,-0.22],[1854,0.13],[1855,0.38],[1856,0.18],[1857,0.03],[1859,0.28],[1860,0.40],[1861,0.45],[1862,0.33],[1864,0.18],[1866,0.33],[1868,0.23],[1870,0.18],[1872,0.38],[1874,0.28],[1876,0.18],[1878,0.13],[1880,0.28],[1882,0.08],[1884,-0.07],[1886,-0.09],[1888,-0.12],[1890,0.00],[1891,0.03],[1892,-0.27],[1893,-0.45],[1894,-0.57],[1895,-0.47]];
const wheatRiga = [[1765,-1.42],[1773,-1.09],[1778,-1.39],[1783,-1.27],[1788,-0.82],[1793,-0.87],[1798,-0.72],[1803,-0.39],[1808,-0.49],[1813,-0.82],[1818,-0.65],[1823,-1.09],[1828,-1.09],[1841,-0.27],[1843,-0.30],[1845,-0.32],[1847,-0.25],[1849,-0.35],[1851,-0.35],[1853,-0.22],[1855,-0.40],[1857,-0.10],[1859,0.20],[1861,0.33],[1863,0.28],[1865,0.20],[1867,0.35],[1868,0.61],[1870,0.28],[1872,0.35],[1874,0.30],[1876,0.20],[1878,0.18],[1880,0.22],[1882,0.10],[1884,-0.22],[1886,-0.25],[1888,-0.17],[1890,0.03],[1892,-0.12],[1894,-0.19],[1896,-0.30],[1898,-0.39],[1899,-0.40],[1900,-0.37],[1901,-0.38],[1902,-0.37],[1903,-0.36],[1904,-0.35],[1905,-0.34],[1906,-0.32],[1907,-0.10],[1908,-0.05],[1909,-0.05],[1910,-0.06],[1911,-0.07],[1912,-0.08],[1913,-0.15]];
const wheatStPetersburg = [[1670,-1.29],[1720,-1.23],[1730,-1.00],[1740,-1.11],[1750,-1.23],[1760,-0.89],[1780,-0.67],[1790,-0.75],[1800,-0.35],[1840,-0.32],[1841,-0.15],[1842,-0.27],[1843,-0.22],[1844,-0.47],[1845,-0.30],[1846,-0.27],[1847,-0.35],[1848,-0.32],[1849,-0.37],[1850,-0.37],[1851,-0.37],[1852,-0.32],[1853,-0.35],[1854,-0.57],[1855,-0.67],[1856,-0.22],[1857,-0.07],[1858,0.18],[1859,0.25],[1860,0.30],[1861,0.38],[1862,0.28],[1863,0.10],[1864,0.03],[1865,0.18],[1866,0.35],[1867,0.48],[1868,0.28],[1869,0.25],[1870,0.23],[1871,0.38],[1872,0.40],[1873,0.43],[1874,0.33],[1875,0.28],[1876,0.18],[1877,0.22],[1878,0.18],[1879,0.28],[1880,0.33],[1881,0.20],[1882,0.13],[1883,0.00],[1884,-0.05],[1885,-0.07],[1886,-0.05],[1887,-0.08],[1888,-0.12],[1889,-0.08],[1890,-0.05],[1891,-0.12],[1892,-0.20],[1893,-0.27],[1894,-0.37],[1895,-0.47],[1896,-0.37],[1897,-0.25],[1898,-0.17]];

// ---------- facet table assembled from the arrays above ----------
const facets = [
  { name: 'barley', ticks: barleyTicks, limits: barleyLimits, lines: { 'Gdansk': barleyGdansk, 'Riga': barleyRiga, 'rural Estonia': barleyEstonia, 'rural Livonia': barleyLivonia, 'St Petersburg/Novgorod': barleyStPetersburg, 'Tallinn': barleyTallinn, 'Tartu': barleyTartu } },
  { name: 'beer', ticks: beerTicks, limits: beerLimits, lines: { 'Gdansk': beerGdansk } },
  { name: 'butter', ticks: butterTicks, limits: butterLimits, lines: { 'Gdansk': butterGdansk, 'Riga': butterRiga, 'rural Livonia': butterLivonia, 'Tartu': butterTartu } },
  { name: 'eggs', ticks: eggsTicks, limits: eggsLimits, lines: { 'Gdansk': eggsGdansk } },
  { name: 'flax', ticks: flaxTicks, limits: flaxLimits, lines: { 'Riga': flaxRiga, 'rural Livonia': flaxLivonia } },
  { name: 'hay', ticks: hayTicks, limits: hayLimits, lines: { 'rural Estonia': hayEstonia, 'rural Livonia': hayLivonia } },
  { name: 'hemp', ticks: hempTicks, limits: hempLimits, lines: { 'Riga': hempRiga } },
  { name: 'herring', ticks: herringTicks, limits: herringLimits, lines: { 'Gdansk': herringGdansk, 'rural Livonia': herringLivonia } },
  { name: 'oats', ticks: oatsTicks, limits: oatsLimits, lines: { 'Gdansk': oatsGdansk, 'Riga': oatsRiga, 'rural Estonia': oatsEstonia, 'rural Livonia': oatsLivonia, 'St Petersburg/Novgorod': oatsStPetersburg, 'Tallinn': oatsTallinn, 'Tartu': oatsTartu } },
  { name: 'peas', ticks: peasTicks, limits: peasLimits, lines: { 'Gdansk': peasGdansk, 'rural Livonia': peasLivonia } },
  { name: 'rye', ticks: ryeTicks, limits: ryeLimits, lines: { 'Gdansk': ryeGdansk, 'Riga': ryeRiga, 'rural Estonia': ryeEstonia, 'rural Livonia': ryeLivonia, 'St Petersburg/Novgorod': ryeStPetersburg, 'Tallinn': ryeTallinn, 'Tartu': ryeTartu } },
  { name: 'salt', ticks: saltTicks, limits: saltLimits, lines: { 'Gdansk': saltGdansk, 'rural Livonia': saltLivonia } },
  { name: 'straw', ticks: strawTicks, limits: strawLimits, lines: { 'rural Estonia': strawEstonia } },
  { name: 'sugar', ticks: sugarTicks, limits: sugarLimits, lines: { 'Gdansk': sugarGdansk } },
  { name: 'tobacco', ticks: tobaccoTicks, limits: tobaccoLimits, lines: { 'rural Livonia': tobaccoLivonia } },
  { name: 'wheat', ticks: wheatTicks, limits: wheatLimits, lines: { 'Gdansk': wheatGdansk, 'Riga': wheatRiga, 'St Petersburg/Novgorod': wheatStPetersburg } }
];

// ---------- styling ----------
const FONT = '"Liberation Sans", Arial, Helvetica, sans-serif';
const PLUS = 'path://M4.4,0H5.6V4.4H10V5.6H5.6V10H4.4V5.6H0V4.4H4.4Z';
const STAR = 'path://M4.45,0H5.55V3.8L8.6,1.15L9.35,1.95L6.2,4.45H10V5.55H6.2L9.35,8.05L8.6,8.85L5.55,6.2V10H4.45V6.2L1.4,8.85L0.65,8.05L3.8,5.55H0V4.45H3.8L0.65,1.95L1.4,1.15L4.45,3.8Z';
const regionStyle = {
  'Gdansk': { color: '#E41A1C', symbol: 'circle', size: 5.5 },
  'Riga': { color: '#377EB8', symbol: 'triangle', size: 8 },
  'rural Estonia': { color: '#4DAF4A', symbol: 'rect', size: 6 },
  'rural Livonia': { color: '#984EA3', symbol: PLUS, size: 10 },
  'St Petersburg/Novgorod': { color: '#FF7F00', symbol: 'emptyRect', size: 6 },
  'Tallinn': { color: '#FFFF33', symbol: STAR, size: 10 },
  'Tartu': { color: '#A65628', symbol: 'none', size: 0 }
};

// ---------- layout ----------
const PANEL_LEFT = 144.3, PANEL_RIGHT = 1103, STRIP_RIGHT = 1232.5;
const PANEL_TOP = 8.3, PANEL_STEP = 88.4, PANEL_H = 72.3;
const GRID_COLOR = '#EBEBEB';
const TICK_FONT = 28.6, STRIP_FONT = 29.8, TITLE_FONT = 37;

function minorBreaks(values, lim) {
  const v = values.slice().sort((a, b) => a - b);
  const out = [];
  const step = v.length > 1 ? v[1] - v[0] : 1;
  const ext = [v[0] - step].concat(v, [v[v.length - 1] + step]);
  for (let i = 0; i < ext.length - 1; i++) {
    const m = (ext[i] + ext[i + 1]) / 2;
    if (m >= lim[0] && m <= lim[1]) out.push(+m.toFixed(6));
  }
  return out;
}

const yearMajor = YEAR_TICKS.map(Number);
const yearMinor = minorBreaks(yearMajor, YEAR_LIMITS);

const grids = [], xAxes = [], yAxes = [], series = [], graphics = [];
facets.forEach((f, i) => {
  const top = PANEL_TOP + i * PANEL_STEP;
  const last = i === facets.length - 1;
  grids.push({ left: PANEL_LEFT, top: top, width: PANEL_RIGHT - PANEL_LEFT, height: PANEL_H,
    show: true, borderColor: '#333333', borderWidth: 1.3, backgroundColor: 'transparent',
    containLabel: false, outerBoundsMode: 'none' });

  // major x axis (ticks, labels on bottom facet, major grid)
  const xIndex = xAxes.length;
  xAxes.push({ type: 'value', gridIndex: i, min: YEAR_LIMITS[0], max: YEAR_LIMITS[1], position: 'bottom',
    axisLine: { show: false, onZero: false },
    axisTick: { show: last, customValues: yearMajor, length: 8, lineStyle: { color: '#333333', width: 1.3 } },
    axisLabel: { show: last, customValues: yearMajor, margin: 16, fontSize: TICK_FONT, color: '#4D4D4D', fontFamily: FONT,
      showMinLabel: true, showMaxLabel: true, hideOverlap: false,
      formatter: v => YEAR_TICKS[yearMajor.indexOf(v)] || '' },
    splitLine: { show: true, lineStyle: { color: GRID_COLOR, width: 1.7 } },
    name: last ? 'Year' : '', nameLocation: 'middle', nameGap: 50,
    nameTextStyle: { fontSize: TITLE_FONT, color: '#000000', fontFamily: FONT } });
  // minor x grid
  xAxes.push({ type: 'value', gridIndex: i, min: YEAR_LIMITS[0], max: YEAR_LIMITS[1], position: 'top',
    axisLine: { show: false, onZero: false }, axisTick: { show: false, customValues: yearMinor },
    axisLabel: { show: false, customValues: yearMinor },
    splitLine: { show: true, lineStyle: { color: GRID_COLOR, width: 0.9 } } });

  const major = f.ticks.map(Number);
  const minor = minorBreaks(major, f.limits);
  const yIndex = yAxes.length;
  // major y axis: ticks and major grid
  yAxes.push({ type: 'value', gridIndex: i, min: f.limits[0], max: f.limits[1], position: 'left',
    axisLine: { show: false, onZero: false },
    axisTick: { show: true, customValues: major, length: 8, lineStyle: { color: '#333333', width: 1.3 } },
    axisLabel: { show: false, customValues: major },
    splitLine: { show: true, lineStyle: { color: GRID_COLOR, width: 1.7 } } });
  // minor y grid
  yAxes.push({ type: 'value', gridIndex: i, min: f.limits[0], max: f.limits[1], position: 'right',
    axisLine: { show: false, onZero: false }, axisTick: { show: false, customValues: minor },
    axisLabel: { show: false, customValues: minor },
    splitLine: { show: true, lineStyle: { color: GRID_COLOR, width: 0.9 } } });
  // one label-only axis per tick so overlapping labels are all kept, as in the facet plot
  major.forEach((m, k) => {
    yAxes.push({ type: 'value', gridIndex: i, min: f.limits[0], max: f.limits[1], position: 'left',
      axisLine: { show: false, onZero: false }, axisTick: { show: false, customValues: [m] },
      splitLine: { show: false },
      axisLabel: { show: true, customValues: [m], margin: 14, fontSize: TICK_FONT, color: '#4D4D4D', fontFamily: FONT,
        showMinLabel: true, showMaxLabel: true, hideOverlap: false, formatter: () => f.ticks[k] } });
  });

  REGIONS.forEach((r, k) => {
    const data = f.lines[r];
    if (!data) return;
    const st = regionStyle[r];
    series.push({
      type: 'line', name: r, xAxisIndex: xIndex, yAxisIndex: yIndex, data: data,
      symbol: st.symbol, symbolSize: st.size, showSymbol: st.symbol !== 'none', symbolKeepAspect: true,
      lineStyle: { color: st.color, width: 1.8 },
      itemStyle: { color: st.color, borderWidth: st.symbol === 'emptyRect' ? 1.3 : 0, opacity: r === 'Gdansk' ? 0.8 : 1 },
      emphasis: { disabled: true }, silent: true, animation: false, z: 3 + k
    });
  });

  // facet strip on the right
  graphics.push({ type: 'rect', silent: true,
    shape: { x: PANEL_RIGHT, y: top, width: STRIP_RIGHT - PANEL_RIGHT, height: PANEL_H },
    style: { fill: '#FFFFFF', stroke: '#333333', lineWidth: 1.3 } });
  graphics.push({ type: 'text', silent: true, x: (PANEL_RIGHT + STRIP_RIGHT) / 2, y: top + PANEL_H / 2,
    style: { text: f.name, fontSize: STRIP_FONT, fontFamily: FONT, fill: '#1A1A1A', align: 'center', verticalAlign: 'middle' } });
});

// y-axis title shared by all facets
graphics.push({ type: 'text', silent: true, x: 29, y: 707.5, rotation: Math.PI / 2,
  style: { text: 'Silver (g per kg, log)', fontSize: TITLE_FONT, fontFamily: FONT, fill: '#000000', align: 'center', verticalAlign: 'middle' } });

// legend in column-major order, 2 rows
const legendColumns = [[['Gdansk', 'Riga'], 147], [['rural Estonia', 'rural Livonia'], 335], [['St Petersburg/Novgorod', 'Tallinn'], 585], [['Tartu'], 992]];
const legends = legendColumns.map(([names, left]) => ({
  data: names.map(n => regionStyle[n].symbol === 'none' ? { name: n, itemStyle: { opacity: 0 } } : n),
  orient: 'vertical', left: left, top: 1548.6, width: 400, height: 200,
  itemWidth: 37, itemHeight: 8, itemGap: 14.5,
  selectedMode: false, padding: 0,
  textStyle: { fontSize: STRIP_FONT, color: '#000000', fontFamily: FONT, lineHeight: 30, padding: [0, 0, 0, 19] }
}));

const chart = echarts.init(document.getElementById('chart'), null, { renderer: 'canvas' });
chart.setOption({
  animation: false,
  backgroundColor: '#FFFFFF',
  textStyle: { fontFamily: FONT },
  grid: grids,
  xAxis: xAxes,
  yAxis: yAxes,
  legend: legends,
  series: series,
  graphic: graphics
});
</script>
</body>
</html>
